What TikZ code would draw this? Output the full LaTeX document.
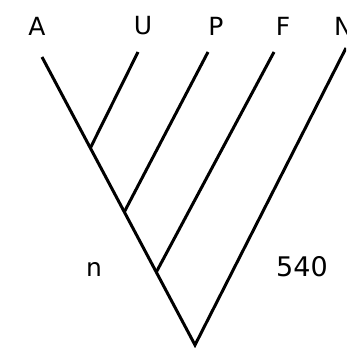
\documentclass[tikz,border=0pt]{standalone}
\usepackage{fontspec}
\setmainfont{DejaVu Sans}
\usetikzlibrary{calc}
\begin{document}
\begin{tikzpicture}[x=1pt,y=-1pt,
  branch/.style={line width=3pt,line cap=butt},
  lab/.style={font=\fontsize{25}{25}\selectfont,inner sep=0pt,anchor=center}]
\useasboundingbox (0,0) rectangle (346,348);
\clip (0,0) rectangle (346,348);
\coordinate (a) at (42,57);
\coordinate (r) at (195,345);
\coordinate (u) at (138,52);
\coordinate (p) at (208,52);
\coordinate (f) at (274,52);
\coordinate (nn) at (346,48);
\coordinate (ju) at ($(a)!0.316!(r)$);
\coordinate (jp) at ($(a)!0.538!(r)$);
\coordinate (jf) at ($(a)!0.747!(r)$);
\draw[branch,line join=miter] (a) -- (r) -- (nn);
\draw[branch] (u) -- (ju);
\draw[branch] (p) -- (jp);
\draw[branch] (f) -- (jf);
\node[lab] (lA) at (37,26) {A};
\node[lab] (lU) at (143,26) {U};
\node[lab] (lP) at (216,26) {P};
\node[lab] (lF) at (283,26) {F};
\node[lab,anchor=west] (lN) at (334,26) {N};
\node[lab] (ln) at (94,269) {n};
\node[lab,font=\fontsize{27}{27}\selectfont] (l540) at (302,267) {540};
\end{tikzpicture}
\end{document}
